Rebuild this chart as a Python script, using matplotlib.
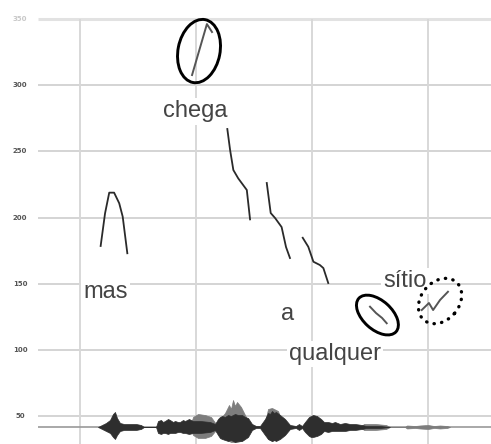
import numpy as np
import matplotlib
matplotlib.use('Agg')
import matplotlib.pyplot as plt
from matplotlib.collections import EllipseCollection

# pitch values (time in s, f0 in Hz)
mas_t = [0.089, 0.108, 0.126, 0.147, 0.169, 0.184, 0.204]
mas_f = [178.5, 203.2, 218.8, 218.8, 210.8, 200.7, 173.0]

chega_t = [0.483, 0.547, 0.569]
chega_f = [307.7, 346.2, 340.2]

seg1_t = [0.635, 0.647, 0.661, 0.682, 0.719, 0.733]
seg1_f = [266.9, 251.0, 235.9, 229.6, 220.8, 198.6]

seg2_t = [0.805, 0.822, 0.841, 0.869, 0.888, 0.905]
seg2_f = [226.1, 203.4, 199.6, 192.8, 177.7, 169.4]

seg3_t = [0.960, 0.984, 1.006, 1.034, 1.049, 1.070]
seg3_f = [184.7, 177.9, 166.6, 164.1, 161.8, 150.5]

qual_t = [1.250, 1.276, 1.302, 1.322]
qual_f = [132.6, 127.8, 124.1, 120.1]

sitio_t = [1.473, 1.504, 1.522, 1.552, 1.586]
sitio_f = [130.1, 135.4, 130.1, 137.7, 143.9]

# waveform envelope (pixel-ish amplitude units), dark and light parts
dark_x = [98, 102, 106, 110, 113, 115, 117, 120, 124, 130, 136, 141, 144,
          156, 158, 161, 163, 165, 168, 170, 173, 175, 178, 180, 183, 185,
          189, 193, 200, 210, 215,
          218, 220, 222, 225, 228, 231, 235, 238, 242, 245, 248, 252, 256,
          260, 265, 268, 270, 272, 274, 276, 280, 285, 290, 296, 299, 302,
          305, 309, 311, 313, 317, 321, 324, 328, 332, 335, 340, 345, 350,
          355, 362, 366, 380, 390]
dark_up = [0, 2, 4, 7, 13, 15, 9, 4, 3, 3, 3, 2, 0,
           0, 6, 7, 5, 6, 8, 7, 5, 6, 5, 5, 7, 6,
           8, 6, 6, 5, 3,
           8, 10, 11, 10, 12, 11, 13, 12, 12, 10, 9, 3, 1,
           1, 8, 14, 13, 16, 14, 15, 12, 8, 2, 1, 3, 1,
           5, 10, 11, 12, 11, 8, 5, 5, 4, 5, 3, 4, 3,
           3, 2, 1, 1, 0]
dark_dn = [0, 2, 4, 6, 10, 12, 8, 4, 3, 3, 3, 2, 0,
           0, 6, 7, 6, 6, 7, 6, 6, 6, 5, 5, 6, 6,
           7, 6, 6, 5, 3,
           8, 11, 12, 13, 14, 13, 15, 14, 14, 12, 10, 3, 1,
           1, 8, 12, 13, 14, 13, 14, 12, 8, 2, 1, 3, 1,
           5, 9, 10, 10, 9, 7, 4, 5, 4, 4, 4, 4, 3,
           3, 2, 1, 1, 0]

light_x = [190, 193, 198, 205, 211, 216, 225, 229, 231, 233, 235, 237, 241,
           246, 252, 264, 268, 272, 278, 284, 360, 364, 368, 375, 386, 390,
           405, 407, 415, 420, 428, 434, 440, 447, 450]
light_up = [0, 10, 13, 12, 10, 3, 14, 22, 18, 27, 21, 25, 20,
            10, 0, 0, 18, 19, 16, 0, 0, 3, 3, 3, 2, 0,
            0, 1.5, 1, 1.5, 2, 1, 1.5, 1, 0]
light_dn = [0, 8, 11, 11, 9, 3, 12, 14, 15, 15, 15, 15, 14,
            10, 0, 0, 12, 14, 12, 0, 0, 3, 3, 3, 2, 0,
            0, 1.5, 1, 1.5, 2, 1, 1.5, 1, 0]

yticks = [350, 300, 250, 200, 150, 100, 50]
xgrid = [0.0, 0.5, 1.0, 1.5]

words = ['mas', 'chega', 'a', 'qualquer', 'sítio']
word_t = [0.110, 0.496, 0.894, 1.099, 1.401]
word_f = [139.2, 275.6, 122.5, 92.3, 147.7]

circ_t = [0.513, 1.282]
circ_f = [325.8, 126.3]
dot_t = [1.552]
dot_f = [136.9]

base_f = 41.7
px_to_hz = 0.7557
px_to_s = 1 / 232

fig = plt.figure(figsize=(4.91, 4.44), dpi=100)
ax = fig.add_axes([0, 0, 1, 1])
ax.set_xlim(-80 * px_to_s, 411 * px_to_s)
ax.set_ylim(28.84, 364.4)
ax.axis('off')

x0 = -42 * px_to_s
ax.hlines(yticks[1:], x0, 2, color='#d4d4d4', lw=1.4, zorder=1)
ax.hlines(yticks[0], x0, 2, color='#e2e2e2', lw=2.2, zorder=1)
ax.vlines(xgrid, 0, yticks[0], color='#d8d8d8', lw=1.4, zorder=1)
ax.hlines(base_f, x0, 2, color='#9a9a9a', lw=1.2, zorder=1)

for v in yticks:
    c = '#c8c8c8' if v == 350 else '#555555'
    ax.text(-60 * px_to_s, v, str(v), fontsize=5, color=c, ha='center',
            va='center', fontweight='bold')

# waveform
lx = (np.array(light_x) - 80) * px_to_s
ax.fill_between(lx, base_f + np.array(light_up) * px_to_hz,
                base_f - np.array(light_dn) * px_to_hz,
                color='#7d7d7d', lw=0.5, zorder=2)
dx = (np.array(dark_x) - 80) * px_to_s
ax.fill_between(dx, base_f + np.array(dark_up) * px_to_hz,
                base_f - np.array(dark_dn) * px_to_hz,
                color='#2e2e2e', lw=0.5, zorder=3)

for t, f in [(mas_t, mas_f), (seg1_t, seg1_f), (seg2_t, seg2_f), (seg3_t, seg3_f)]:
    ax.plot(t, f, color='#2a2a2a', lw=1.3, zorder=4)
for t, f in [(chega_t, chega_f), (qual_t, qual_f), (sitio_t, sitio_f)]:
    ax.plot(t, f, color='#555555', lw=1.4, zorder=4)

for w, t, f in zip(words, word_t, word_f):
    ax.text(t, f, w, fontsize=17, family='Liberation Sans', color='#444444',
            ha='center', va='baseline', zorder=5,
            bbox=dict(facecolor='white', edgecolor='none', pad=1.5))

ec = EllipseCollection([64, 50], [42, 29], [79, -42], units='dots',
                       offsets=np.column_stack([circ_t, circ_f]),
                       offset_transform=ax.transData,
                       facecolors='none', edgecolors='black', linewidths=2.1,
                       zorder=6)
ax.add_collection(ec)
ed = EllipseCollection([50], [38], [50], units='dots',
                       offsets=np.column_stack([dot_t, dot_f]),
                       offset_transform=ax.transData,
                       facecolors='none', edgecolors='black', linewidths=2.4,
                       linestyles=[(0, (0.1, 2.2))], zorder=6)
ed.set_capstyle('round')
ax.add_collection(ed)

fig.savefig('out.png', dpi=100)
